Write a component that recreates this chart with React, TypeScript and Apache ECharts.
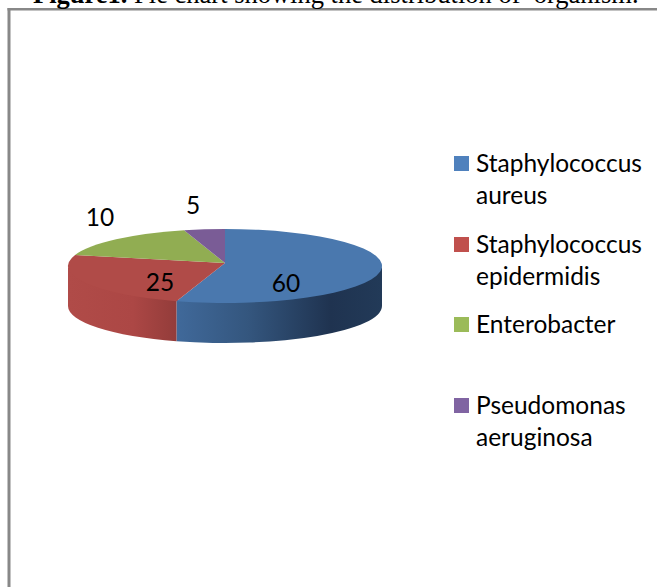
import React, { useEffect, useRef } from "react";
import * as echarts from "echarts";

const CATEGORIES = ["Staphylococcus aureus", "Staphylococcus epidermidis", "Enterobacter", "Pseudomonas aeruginosa"];
const LEGEND_LINES = [["Staphylococcus", "aureus"], ["Staphylococcus", "epidermidis"], ["Enterobacter"], ["Pseudomonas", "aeruginosa"]];
// The printed labels of the reference.
const LABEL_VALUES = [60, 25, 10, 5];
// The slice sizes as they are drawn in the reference (they differ from its printed labels).
const DRAWN_SHARES = [55, 24.8, 16, 4.2];
const LEGEND_COLORS = ["#4f81bd", "#c0504d", "#9bbb59", "#8064a2"];
const TOP_COLORS = ["#4a78ae", "#b04b48", "#91ad52", "#7a5c96"];
const TITLE_BOLD = "Figure1.";
const TITLE_REST = " Pie chart showing the distribution of  organism.";

const FONT = "Lato";
const FONT_SIZE = 24.5;
const CX = 225, CY = 266, APEX_Y = 263, RX = 157, RY = 37, DEPTH = 40;
const LABEL_OFFSETS = [[61, 19], [-65, 18], [-125, -47], [-32, -59]];
const WALL_STOPS = [
  [[0, "#40699a"], [0.35, "#34567e"], [0.75, "#1f3350"], [1, "#223a58"]],
  [[0, "#b04b48"], [0.6, "#ac4745"], [1, "#933c3a"]],
];

const pt = (deg: number, dy = 0) => {
  const r = (deg * Math.PI) / 180;
  return [CX + RX * Math.sin(r), CY - RY * Math.cos(r) + dy];
};

function renderSlice(params: any, api: any) {
  const i = params.dataIndex;
  const total = DRAWN_SHARES.reduce((a, b) => a + b, 0);
  const before = DRAWN_SHARES.slice(0, i).reduce((a, b) => a + b, 0);
  const a0 = (before / total) * 360;
  const a1 = a0 + (api.value(0) / total) * 360;
  const children: any[] = [];
  const w0 = Math.max(a0, 90), w1 = Math.min(a1, 270);
  if (w1 > w0) {
    const s = pt(w0, -1.5), e = pt(w1, -1.5), sd = pt(w0, DEPTH), ed = pt(w1, DEPTH);
    const large = w1 - w0 > 180 ? 1 : 0;
    const stops = WALL_STOPS[i] as [number, string][];
    children.push({
      type: "path",
      shape: { pathData: `M${s[0]} ${s[1]}A${RX} ${RY} 0 ${large} 1 ${e[0]} ${e[1]}L${ed[0]} ${ed[1]}A${RX} ${RY} 0 ${large} 0 ${sd[0]} ${sd[1]}Z` },
      style: {
        fill: new echarts.graphic.LinearGradient(0, 0, 1, 0, stops.map(([offset, color]) => ({ offset, color }))),
      },
    });
  }
  const s = pt(a0), e = pt(a1);
  const large = a1 - a0 > 180 ? 1 : 0;
  children.push({
    type: "path",
    shape: { pathData: `M${CX} ${APEX_Y}L${s[0]} ${s[1]}A${RX} ${RY} 0 ${large} 1 ${e[0]} ${e[1]}Z` },
    style: { fill: TOP_COLORS[i] },
  });
  children.push({
    type: "text",
    z2: 10,
    style: {
      text: String(LABEL_VALUES[i]),
      x: CX + LABEL_OFFSETS[i][0],
      y: CY + LABEL_OFFSETS[i][1] - 3,
      fill: "#000",
      font: `${FONT_SIZE}px ${FONT}`,
      align: "center",
      verticalAlign: "middle",
    },
  });
  return { type: "group", children };
}

function legendGraphics() {
  const tops = [156, 237, 317, 398];
  const out: any[] = [];
  LEGEND_LINES.forEach((lines, i) => {
    out.push({ type: "rect", left: 454, top: tops[i], shape: { width: 15, height: 15 }, style: { fill: LEGEND_COLORS[i] } });
    lines.forEach((line, j) => {
      out.push({
        type: "text",
        x: 476,
        y: tops[i] + 6.5 + j * 32,
        style: { text: line, fill: "#000", font: `${FONT_SIZE}px ${FONT}`, verticalAlign: "middle" },
      });
    });
  });
  return out;
}

export default function App() {
  const ref = useRef<HTMLDivElement>(null);
  useEffect(() => {
    const chart = echarts.init(ref.current!, undefined, { renderer: "svg" });
    chart.setOption({
      animation: false,
      backgroundColor: "#fff",
      graphic: [
        { type: "rect", shape: { x: 7.5, y: 8, width: 3, height: 579 }, style: { fill: "#888" } },
        { type: "rect", shape: { x: 7.5, y: 8, width: 650, height: 2.5 }, style: { fill: "#888" } },
        {
          type: "text",
          x: 33,
          y: -20,
          style: {
            text: `{b|${TITLE_BOLD}}{r|${TITLE_REST}}`,
            rich: {
              b: { font: 'bold 26.5px "Liberation Serif"', fill: "#000" },
              r: { font: '26.5px "Liberation Serif"', fill: "#000" },
            },
          },
        },
        ...legendGraphics(),
      ],
      series: [
        {
          type: "custom",
          coordinateSystem: "none",
          renderItem: renderSlice,
          data: DRAWN_SHARES.map((value, i) => ({ name: CATEGORIES[i], value: [value] })),
        },
      ],
    });
    return () => chart.dispose();
  }, []);
  return <div ref={ref} style={{ position: "absolute", left: 0, top: 0, width: 657, height: 587 }} />;
}
